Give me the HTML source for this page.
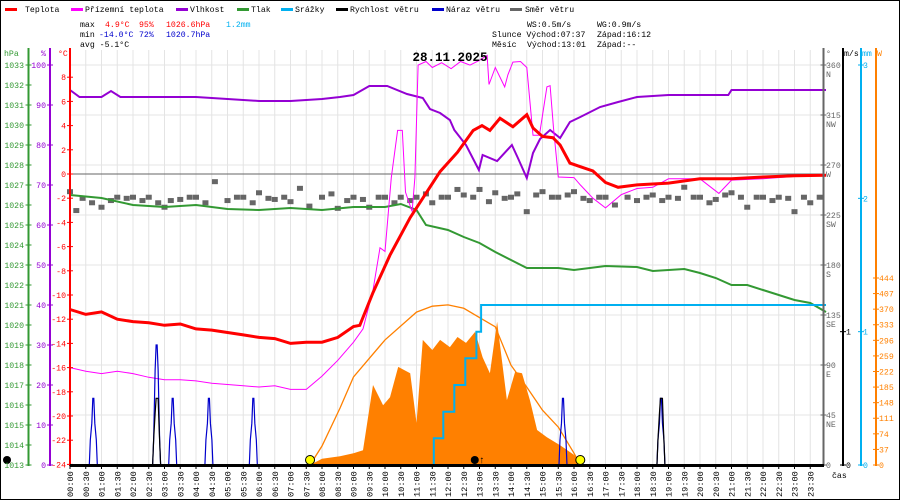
<!DOCTYPE html>
<html><head><meta charset="utf-8"><style>
html,body{margin:0;padding:0;background:#fff}
svg{display:block;font-family:"Liberation Mono",monospace}
</style></head><body>
<svg id="chart" width="900" height="500" viewBox="0 0 900 500" xmlns="http://www.w3.org/2000/svg">
<rect x="0.5" y="0.5" width="899" height="499" fill="#fff" stroke="#000"/>
<g id="legend" font-size="8.2">
 <g><rect x="5" y="8" width="12" height="3" fill="#f00"/><text x="25" y="12">Teplota</text></g>
 <g><rect x="71" y="8" width="12" height="3" fill="#f0f"/><text x="85" y="12">Přízemní teplota</text></g>
 <g><rect x="176" y="8" width="12" height="3" fill="#9400d3"/><text x="190" y="12">Vlhkost</text></g>
 <g><rect x="237" y="8" width="12" height="3" fill="#339933"/><text x="251" y="12">Tlak</text></g>
 <g><rect x="281" y="8" width="12" height="3" fill="#00b0f0"/><text x="295" y="12">Srážky</text></g>
 <g><rect x="336" y="8" width="12" height="3" fill="#000"/><text x="350" y="12">Rychlost větru</text></g>
 <g><rect x="432" y="8" width="12" height="3" fill="#0000cc"/><text x="446" y="12">Náraz větru</text></g>
 <g><rect x="510" y="8" width="12" height="3" fill="#666"/><text x="525" y="12">Směr větru</text></g>
</g>
<g font-size="8.2">
 <text x="80" y="27">max</text>
 <text x="105" y="27" fill="#f00">4.9°C</text><text x="139" y="27" fill="#f00">95%</text><text x="166" y="27" fill="#f00">1026.6hPa</text><text x="226" y="27" fill="#00b0f0">1.2mm</text>
 <text x="80" y="37">min</text>
 <text x="99" y="37" fill="#0000cc">-14.0°C</text><text x="139" y="37" fill="#0000cc">72%</text><text x="166" y="37" fill="#0000cc">1020.7hPa</text>
 <text x="80" y="47">avg -5.1°C</text>
</g>
<g font-size="8.2">
 <text x="527" y="27">WS:0.5m/s</text><text x="597" y="27">WG:0.9m/s</text>
 <text x="492" y="37">Slunce Východ:07:37</text><text x="597" y="37">Západ:16:12</text>
 <text x="492" y="47">Měsíc</text><text x="527" y="47">Východ:13:01</text><text x="597" y="47">Západ:--</text>
</g>
<g id="grid"></g>
<g id="plot"></g>
<g id="axes"></g>
<text x="450" y="61" text-anchor="middle" font-size="12.5" font-weight="bold">28.11.2025</text>
</svg>
<script>
// ---- data ----
const tempT=[0,0.5,1,1.5,2,2.5,3,3.5,4,4.5,5,5.5,6,6.5,7,7.5,8,8.5,9,9.2,9.62,10.16,10.8,11.2,11.75,12.3,12.8,13.08,13.33,13.65,14.06,14.5,14.7,15.0,15.33,15.56,15.87,16.2,16.6,17.0,17.4,18,19,20,21,22,23,24];
const tempV=[-11.2,-11.6,-11.4,-12,-12.2,-12.3,-12.5,-12.4,-12.8,-12.9,-13.1,-13.3,-13.5,-13.6,-14,-13.9,-13.9,-13.5,-12.6,-12.5,-9.8,-6.7,-3.6,-2,0.2,1.8,3.6,4.0,3.6,4.6,3.9,4.9,3.8,3.1,3.0,2.4,0.9,0.6,0.25,-0.7,-1.1,-0.9,-0.75,-0.4,-0.4,-0.25,-0.15,-0.1];
const appT=[0,0.5,1,1.5,2,2.5,3,3.5,4,4.5,5,5.5,6,6.5,7,7.5,8,8.5,9,9.3,9.62,9.84,10.0,10.2,10.4,10.55,10.65,10.86,10.95,11.05,11.3,11.5,11.8,12.1,12.4,12.7,13.0,13.24,13.3,13.5,13.8,13.9,14.06,14.3,14.5,14.7,14.9,15.14,15.24,15.35,15.5,16,16.2,16.6,17,17.5,18,18.5,19,20,20.6,21,22,23,24];
const appV=[-16,-16.3,-16.5,-16.3,-16.5,-16.8,-17,-17,-17.1,-17.3,-17.4,-17.5,-17.6,-17.5,-17.8,-17.8,-16.7,-15.4,-13.9,-12.8,-9.6,-6.1,-6.4,-0.3,3.6,3.6,-1.5,-3.1,-0.3,9.0,9.3,8.8,9.2,8.7,9.3,9.0,9.4,9.8,7.4,8.8,7.2,8.2,9.25,9.3,8.8,3.2,3.2,7.2,7.3,3.8,-0.25,-0.3,-0.9,-2,-2.8,-1.7,-1.2,-1.1,-0.4,-0.4,-1.6,-0.5,-0.4,-0.2,-0.1];
const humT=[0,0.3,1,1.3,1.6,3,4,5,6,7,8,8.57,9,9.5,10.07,10.7,11.2,11.43,11.75,12.06,12.2,12.57,12.98,13.1,13.56,14.03,14.22,14.5,14.7,14.92,15.24,15.56,15.87,16.2,16.83,17.4,18,19,20,20.9,21,24];
const humV=[93.75,92,92,93.5,92,92,92,91.5,91,91,91.5,92,92.5,94.75,94.75,92.75,91.75,89,88,86.25,83.75,80,73.75,77.5,76,80,76.75,71.75,78,81.5,83.75,81.75,85.75,87,89.5,90.75,92,92.5,92.5,92.5,93.75,93.75];
const presT=[0,1,2,3,4,5,6,7,8,9,10,10.5,11,11.3,12,12.5,13,13.5,14,14.5,15,15.5,16,17,18,18.5,19.5,20,20.5,21,21.5,22,22.5,23,23.5,24];
const presV=[1026.5,1026.35,1026,1025.9,1026,1025.8,1025.75,1025.85,1025.75,1025.9,1025.9,1026.05,1025.75,1025,1024.75,1024.4,1024.1,1023.65,1023.25,1022.85,1022.85,1022.85,1022.75,1022.95,1022.9,1022.7,1022.8,1022.6,1022.35,1022,1022,1021.75,1021.5,1021.25,1021.1,1020.65];
const rainT=[0,11.55,11.85,12.2,12.55,12.9,13.05,24];
const rainV=[0,0.2,0.4,0.6,0.8,1.0,1.2,1.2];
const solT=[7.62,8.0,8.57,9.0,9.3,9.62,9.94,10.16,10.42,10.8,11.0,11.2,11.5,11.75,12.06,12.3,12.57,12.86,13.1,13.33,13.56,13.87,14.13,14.35,14.6,14.83,15.14,15.56,16.0,16.3];
const solV=[0,15,21,28,35,190,142,161,233,218,100,297,273,297,280,304,290,316,256,218,340,154,221,218,154,83,66,47,24,0];
const theoT=[7.62,8.0,8.57,9,10,11,11.5,12,12.5,13,13.5,14,14.5,15,15.5,16,16.2];
const theoV=[0,45,135,209,297,363,377,380,372,350,328,237,185,130,90,28,0];
const gustT=[0.74,2.75,3.26,4.41,5.82,15.65,18.76];
const gustV=[0.5,0.9,0.5,0.5,0.5,0.5,0.5];
const windT=[2.75,18.76];
const windV=[0.5,0.5];
const dirT=[0,0.2,0.4,0.7,1,1.3,1.5,1.8,2,2.3,2.5,2.8,3,3.2,3.5,3.8,4,4.3,4.6,5,5.3,5.5,5.8,6,6.3,6.5,6.8,7,7.3,7.6,8,8.3,8.5,8.8,9,9.3,9.5,9.8,10,10.3,10.5,10.8,11,11.3,11.5,11.8,12,12.3,12.5,12.8,13,13.3,13.5,13.8,14,14.2,14.5,14.8,15,15.3,15.5,15.8,16,16.3,16.5,16.8,17,17.3,17.7,18,18.3,18.5,18.8,19,19.3,19.5,19.8,20,20.3,20.5,20.8,21,21.3,21.5,21.8,22,22.3,22.5,22.8,23,23.3,23.5,23.8];
const dirV=[246,229,240,236,232,238,241,240,241,238,241,236,232,238,239,241,241,236,255,238,241,241,236,245,240,239,241,237,249,233,241,244,231,238,241,239,232,241,241,236,241,238,241,244,236,241,241,248,243,241,248,237,245,240,241,244,228,243,246,241,241,243,246,240,238,241,241,234,241,238,241,243,238,241,240,250,241,241,236,239,243,245,241,232,241,241,238,241,240,228,241,236,241,238];
const degTicks=[0,45,90,135,180,225,270,315,360];
const degNames=["","NE","E","SE","S","SW","W","NW","N"];
const wTicks=[0,37,74,111,148,185,222,259,296,333,370,407,444];

// ---- scales ----
const X=h=>70+h*31.5;
const yT=v=>174-v*12.1;
const yH=v=>465-v*4;
const yP=v=>465-(v-1013)*20;
const yD=v=>465-v*400/360;
const yMS=v=>465-v*133.33;
const yMM=v=>465-v*133.33;
const yW=v=>465-v*0.4212;
const NS="http://www.w3.org/2000/svg";
function mk(tag,attrs,parent){const e=document.createElementNS(NS,tag);for(const k in attrs)e.setAttribute(k,attrs[k]);parent.appendChild(e);return e;}
const grid=document.getElementById('grid'),plot=document.getElementById('plot'),axes=document.getElementById('axes');
// grid
for(let i=1;i<48;i++){const l=mk('line',{x1:X(i/2),x2:X(i/2),y1:50,y2:465,stroke:'#e4e4e4'},grid);

}
for(const d of degTicks){if(d===0)continue;const l=mk('line',{x1:70,x2:823,y1:yD(d),y2:yD(d),stroke:'#e4e4e4'},grid);

}
const zl=mk('line',{x1:70,x2:823,y1:yT(0),y2:yT(0),stroke:'#666'},grid);



function pts(T,V,fx,fy){return T.map((t,i)=>fx(t).toFixed(1)+','+fy(V[i]).toFixed(1)).join(' ');}
// solar fill
const sp=mk('polygon',{points:X(solT[0])+',465 '+pts(solT,solV,X,yW)+' '+X(solT[solT.length-1])+',465',fill:'#ff8000'},plot);


const th=mk('polyline',{points:pts(theoT,theoV,X,yW),fill:'none',stroke:'#ff8000','stroke-width':1.3},plot);


// wind direction
dirT.forEach((t,i)=>{const r=mk('rect',{x:X(t)-3,y:yD(dirV[i])-2.5,width:6,height:5,fill:'#666'},plot);

});
// pressure
const pl=mk('polyline',{points:pts(presT,presV,X,yP),fill:'none',stroke:'#339933','stroke-width':2},plot);


// humidity
const hl=mk('polyline',{points:pts(humT,humV,X,yH),fill:'none',stroke:'#9400d3','stroke-width':2},plot);


// apparent temp
const al=mk('polyline',{points:pts(appT,appV,X,yT),fill:'none',stroke:'#f0f','stroke-width':1},plot);


// temperature
const tl=mk('polyline',{points:pts(tempT,tempV,X,yT),fill:'none',stroke:'#f00','stroke-width':3},plot);


// rain steps
let rp='';rainT.forEach((t,i)=>{if(i>0)rp+=X(t).toFixed(1)+','+yMM(rainV[i-1]).toFixed(1)+' ';rp+=X(t).toFixed(1)+','+yMM(rainV[i]).toFixed(1)+' ';});
const rl=mk('polyline',{points:rp,fill:'none',stroke:'#00b0f0','stroke-width':2},plot);


// gusts / wind speed spikes
gustT.forEach((t,i)=>{const x=X(t),y=yMS(gustV[i]);const p=mk('polyline',{points:`${x-4},465 ${x-3},440 ${x-1.5},${y+25} ${x-0.5},${y} ${x+0.5},${y} ${x+1.5},${y+25} ${x+3},440 ${x+4},465`,fill:'none',stroke:'#0000cc','stroke-width':1.2},plot);

});
windT.forEach((t,i)=>{const x=X(t),y=yMS(windV[i]);const p=mk('polyline',{points:`${x-4},465 ${x-3},440 ${x-1.5},${y+15} ${x-0.5},${y} ${x+1.5},${y} ${x+2.5},${y+30} ${x+4},465`,fill:'none',stroke:'#000','stroke-width':1.2},plot);

});
// sun markers
[7.62,16.2].forEach(t=>{const c=mk('circle',{cx:X(t),cy:460,r:4.5,fill:'#ff0',stroke:'#000','stroke-width':1},plot);

});
const m1=mk('circle',{cx:X(12.85),cy:460,r:4,fill:'#000'},plot);


const ma=mk('text',{x:X(12.85)+4,y:463,'font-size':10},plot);ma.textContent='↑';


const m2=mk('circle',{cx:7,cy:460,r:4,fill:'#000'},plot);



// ---- axes ----
function axisLine(x,y1,color,name){const l=mk('line',{x1:x,x2:x,y1:y1,y2:466,stroke:color,'stroke-width':2},axes);

}
function tick(x,y,color,label,lx,anchor,name){mk('line',{x1:x-3,x2:x+3,y1:y,y2:y,stroke:color},axes);const t=mk('text',{x:lx,y:y+3,fill:color,'font-size':8.2,'text-anchor':anchor},axes);t.textContent=label;

}
axisLine(28.5,48,'#339933','pressure-axis');
axisLine(50,48,'#9400d3','humidity-axis');
axisLine(70,48,'#f00','temperature-axis');
for(let p=1013;p<=1033;p++)tick(28.5,yP(p),'#339933',String(p),24,'end','pressure-tick-label');
for(let h=0;h<=100;h+=10)tick(50,yH(h),'#9400d3',String(h),46,'end','humidity-tick-label');
for(let c=-24;c<=8;c+=2)tick(70,yT(c),'#f00',String(c),66,'end','temperature-tick-label');
[['hPa',4,'#339933'],['%',41,'#9400d3'],['°C',58,'#f00']].forEach(a=>{const t=mk('text',{x:a[1],y:56,fill:a[2],'font-size':8.2},axes);t.textContent=a[0];

});
// right
axisLine(823.5,48,'#666','wind-direction-axis');
degTicks.forEach((d,i)=>{tick(823.5,yD(d),'#666',String(d),826,'start','direction-tick-label');if(degNames[i]){const t=mk('text',{x:826,y:yD(d)+12,fill:'#666','font-size':8.2},axes);t.textContent=degNames[i];

}});
axisLine(843,48,'#000','wind-speed-axis');
[0,1].forEach(v=>tick(843,yMS(v),'#000',String(v),846,'start','wind-speed-tick-label'));
axisLine(861,48,'#00b0f0','rain-axis');
[0,1,2,3].forEach(v=>tick(861,yMM(v),'#00b0f0',String(v),863,'start','rain-tick-label'));
axisLine(876,48,'#ff8000','solar-axis');
wTicks.forEach(v=>tick(876,yW(v),'#ff8000',String(v),879,'start','solar-tick-label'));
[['°',826,'#666'],['m/s',844,'#000'],['mm',862,'#00b0f0'],['W',877,'#ff8000']].forEach(a=>{const t=mk('text',{x:a[1],y:56,fill:a[2],'font-size':8.2},axes);t.textContent=a[0];

});
// x axis
const xa=mk('line',{x1:70,x2:824,y1:465.5,y2:465.5,stroke:'#000','stroke-width':3},axes);


for(let i=0;i<48;i++){const h=i/2,x=X(h);mk('line',{x1:x,x2:x,y1:465,y2:469,stroke:'#000'},axes);
const lab=String(Math.floor(h)).padStart(2,'0')+':'+(i%2?'30':'00');
const t=mk('text',{x:0,y:0,'font-size':8.6,transform:`translate(${x+3},497) rotate(-90)`},axes);t.textContent=lab;

}
const cas=mk('text',{x:832,y:478,'font-size':8.2},axes);cas.textContent='čas';


</script>
</body></html>
